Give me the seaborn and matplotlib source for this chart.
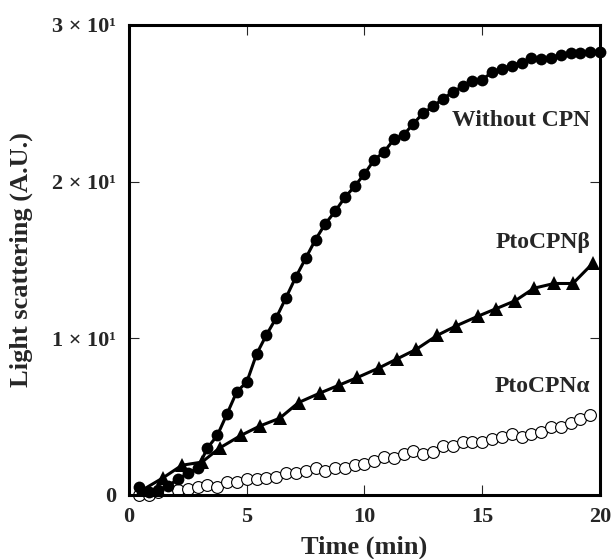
import seaborn as sns
import matplotlib.pyplot as plt
import numpy as np

# sampling times (min), one reading every 25 s
time = [0.42, 0.83, 1.25, 1.67, 2.08, 2.5, 2.92, 3.33, 3.75, 4.17, 4.58, 5.0,
        5.42, 5.83, 6.25, 6.67, 7.08, 7.5, 7.92, 8.33, 8.75, 9.17, 9.58, 10.0,
        10.42, 10.83, 11.25, 11.67, 12.08, 12.5, 12.92, 13.33, 13.75, 14.17, 14.58, 15.0,
        15.42, 15.83, 16.25, 16.67, 17.08, 17.5, 17.92, 18.33, 18.75, 19.17, 19.58, 20.0]

without_cpn = [0.5, 0.2, 0.3, 0.6, 1.0, 1.4, 1.7, 3.0, 3.8, 5.2, 6.6, 7.2,
               9.0, 10.2, 11.3, 12.6, 13.9, 15.1, 16.3, 17.3, 18.1, 19.0, 19.7, 20.5,
               21.4, 21.9, 22.7, 23.0, 23.7, 24.4, 24.8, 25.3, 25.7, 26.1, 26.4, 26.5,
               27.0, 27.2, 27.4, 27.6, 27.9, 27.8, 27.9, 28.1, 28.2, 28.2, 28.3, 28.3]

cpn_alpha = [0.0, 0.0, 0.2, 0.3, 0.3, 0.4, 0.5, 0.65, 0.5, 0.85, 0.8, 1.0,
             1.0, 1.1, 1.15, 1.4, 1.4, 1.5, 1.7, 1.5, 1.7, 1.7, 1.9, 2.0,
             2.2, 2.4, 2.35, 2.6, 2.8, 2.6, 2.75, 3.1, 3.1, 3.4, 3.4, 3.4,
             3.6, 3.7, 3.9, 3.7, 3.9, 4.0, 4.35, 4.35, 4.6, 4.85, 5.1]

time_beta = [0.55, 1.45, 2.25, 3.1, 3.85, 4.75, 5.55, 6.4, 7.2, 8.1, 8.9, 9.7,
             10.6, 11.4, 12.2, 13.1, 13.9, 14.8, 15.6, 16.4, 17.2, 18.05, 18.85, 19.7]
cpn_beta = [0.3, 1.1, 1.9, 2.1, 3.0, 3.8, 4.4, 4.9, 5.9, 6.5, 7.0, 7.5,
            8.1, 8.7, 9.3, 10.2, 10.8, 11.4, 11.9, 12.4, 13.2, 13.5, 13.5, 14.8]

x_ticks = [0, 5, 10, 15, 20]
y_ticks = [0, 10, 20, 30]
y_ticklabels = ["0", "1 × 10¹", "2 × 10¹", "3 × 10¹"]

sns.set_style("ticks")
plt.rcParams['font.family'] = ['Liberation Serif', 'DejaVu Serif']
plt.rcParams['font.weight'] = 'bold'

fig = plt.figure(figsize=(6.13, 5.59), dpi=100)
ax = fig.add_axes([0.2104, 0.1145, 0.7684, 0.8408])

sns.lineplot(x=time[:len(cpn_alpha)], y=cpn_alpha, ax=ax, color="black", lw=0.8,
             marker="o", markersize=8.5, markerfacecolor="white", markeredgecolor="black",
             markeredgewidth=0.8, clip_on=False)
sns.lineplot(x=time_beta, y=cpn_beta, ax=ax, color="black", lw=2.2,
             marker="^", markersize=10, markeredgewidth=0, clip_on=False)
sns.lineplot(x=time, y=without_cpn, ax=ax, color="black", lw=2.2,
             marker="o", markersize=8.5, markeredgewidth=0, clip_on=False)

ax.text(19.6, 23.9, "Without CPN", ha="right", va="center", fontsize=17, fontweight="bold")
ax.text(19.6, 16.1, "PtoCPNβ", ha="right", va="center", fontsize=17, fontweight="bold")
ax.text(19.6, 6.9, "PtoCPNα", ha="right", va="center", fontsize=17, fontweight="bold")

ax.set_xlim(0, 20)
ax.set_ylim(0, 30)
ax.set_xticks(x_ticks)
ax.set_yticks(y_ticks)
ax.set_yticklabels(y_ticklabels)
ax.tick_params(direction="in", length=7, width=0.8, top=True, right=True,
               labelsize=16, pad=9)
for lab in ax.get_xticklabels() + ax.get_yticklabels():
    lab.set_fontweight("bold")
for sp in ax.spines.values():
    sp.set_linewidth(2.2)
    sp.set_color("black")

ax.set_xlabel("Time (min)", fontsize=19, fontweight="bold", labelpad=6)
ax.set_ylabel("Light scattering (A.U.)", fontsize=19, fontweight="bold", labelpad=14)

fig.savefig("out.png", dpi=100)
